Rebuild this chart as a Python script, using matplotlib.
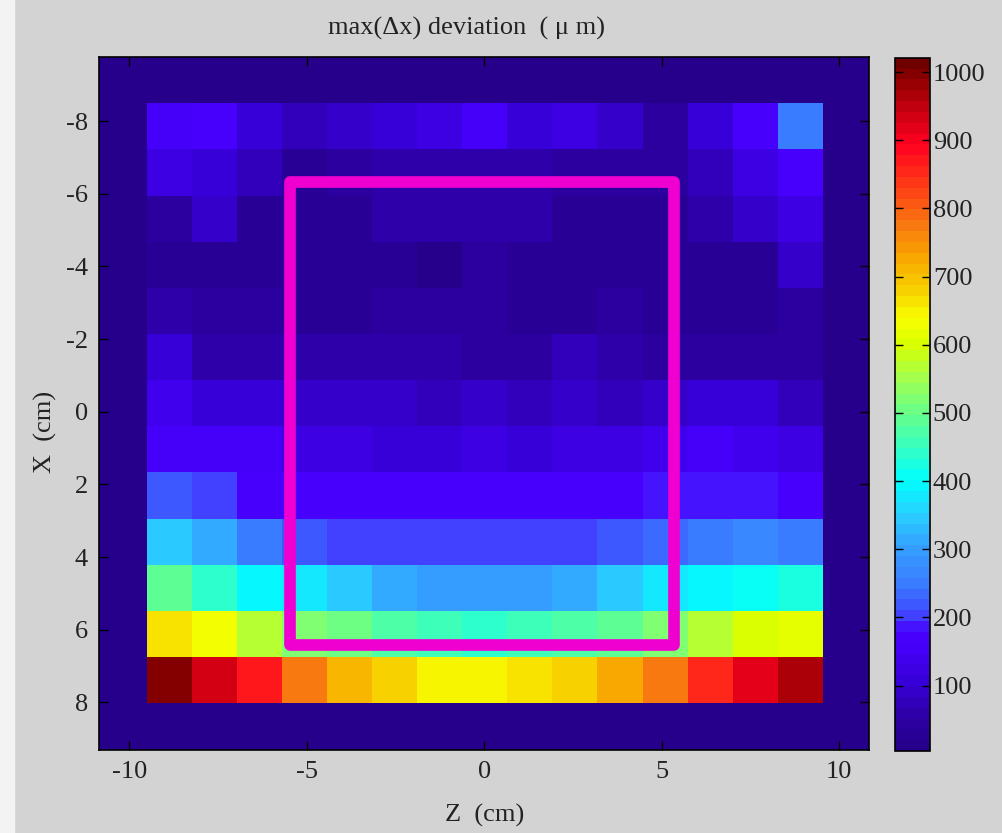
import numpy as np
import matplotlib
matplotlib.use("Agg")
import matplotlib.pyplot as plt
from matplotlib.colors import LinearSegmentedColormap, Normalize
from matplotlib.patches import Rectangle

# ---------------- data ----------------
title = "max(\u0394x) deviation  ( \u03bc m)"
xlabel = "Z  (cm)"
ylabel = "X  (cm)"

# rows: X from top (-8) to bottom (+8); columns: Z from left to right
dev = np.array([
    [160, 170, 110,  80,  95, 110, 125, 150, 105, 125,  90,  50, 105, 165, 250],
    [125, 110,  75,  20,  50,  65,  65,  65,  65,  40,  40,  40,  80, 120, 165],
    [ 50,  85,  20,  25,  25,  60,  60,  60,  60,  22,  22,  22,  55,  95, 130],
    [ 25,  25,  25,  25,  25,  20,  15,  45,  20,  20,  20,  20,  20,  20,  85],
    [ 65,  50,  50,  25,  25,  45,  45,  45,  25,  25,  45,  25,  25,  25,  45],
    [105,  65,  65,  55,  60,  60,  60,  50,  50,  75,  60,  50,  50,  50,  50],
    [140, 100, 100,  90,  90,  90,  80,  90,  80,  90,  80,  90, 100, 105,  80],
    [160, 160, 150, 125, 125, 110, 110, 120, 110, 125, 125, 140, 150, 145, 130],
    [218, 195, 175, 170, 170, 170, 170, 170, 170, 170, 170, 180, 180, 180, 178],
    [350, 310, 250, 225, 205, 205, 195, 205, 195, 202, 215, 235, 250, 265, 250],
    [490, 440, 400, 370, 340, 315, 300, 305, 305, 320, 350, 385, 400, 405, 420],
    [670, 630, 570, 520, 505, 465, 455, 440, 450, 465, 495, 525, 570, 600, 615],
    [1000, 940, 870, 770, 715, 680, 650, 645, 665, 680, 730, 780, 855, 920, 960],
])

cell_size = 1.27        # cm
z_start = -9.51         # left edge of first column (cm)
x_start = -8.49         # top edge of first row (cm)

region_z = [-5.47, 5.35]
region_x = [-6.33, 6.42]

vmin, vmax = 4, 1021
cbar_ticks = [100, 200, 300, 400, 500, 600, 700, 800, 900, 1000]
xticks = [-10, -5, 0, 5, 10]
yticks = [-8, -6, -4, -2, 0, 2, 4, 6, 8]

cmap_values = [4, 50, 100, 150, 175, 200, 250, 300, 350, 400, 450, 500, 550,
               600, 640, 680, 730, 780, 850, 900, 950, 1000, 1021]
cmap_colors = ["#26008a", "#2e00a8", "#3800d8", "#4400f8", "#4800ff", "#4048ff",
               "#3a80ff", "#34a0ff", "#28d0ff", "#00ffff", "#38ffc0", "#68ff88",
               "#a0ff50", "#d8ff00", "#f8ff00", "#f8d400", "#f8a800", "#f87810",
               "#ff3018", "#ff0020", "#c80010", "#8a0000", "#700000"]

# ---------------- figure ----------------
plt.rcParams['font.family'] = ['Liberation Serif', 'DejaVu Serif']
plt.rcParams['axes.unicode_minus'] = False
fs = 19
txt_color = "#222222"

positions = [(v - vmin) / (vmax - vmin) for v in cmap_values]
cmap = LinearSegmentedColormap.from_list("devjet", list(zip(positions, cmap_colors)), N=64)
norm = Normalize(vmin=vmin, vmax=vmax)

fig = plt.figure(figsize=(10.02, 8.33), dpi=100, facecolor="#d3d3d3")
fig.patches.append(Rectangle((0, 0), 14 / 1002, 1, transform=fig.transFigure,
                             color="#f3f3f3", zorder=-1))

ax = fig.add_axes([99 / 1002, 1 - 750 / 833, 770 / 1002, 693.3 / 833])
ax.set_facecolor(cmap(0))

nrows, ncols = dev.shape
z_edges = z_start + cell_size * np.arange(ncols + 1)
x_edges = x_start + cell_size * np.arange(nrows + 1)
ax.pcolormesh(z_edges, x_edges, dev, cmap=cmap, norm=norm, shading='flat')

ax.add_patch(Rectangle((region_z[0], region_x[0]), region_z[1] - region_z[0],
                       region_x[1] - region_x[0], fill=False, edgecolor="#f000d0",
                       linewidth=8.4, joinstyle='round', zorder=3))

ax.set_xlim(-10.85, 10.84)
ax.set_ylim(9.31, -9.77)
ax.set_xticks(xticks)
ax.set_yticks(yticks)
ax.tick_params(direction='in', length=6.5, width=1, top=True, right=True,
               labelsize=fs, colors="black", labelcolor=txt_color, pad=8)
for s in ax.spines.values():
    s.set_linewidth(1.2)
    s.set_color("black")

fig.text(467 / 1002, 1 - 28 / 833, title, ha='center', va='center', fontsize=fs, color=txt_color)
fig.text(485 / 1002, 1 - 815 / 833, xlabel, ha='center', va='center', fontsize=fs, color=txt_color)
fig.text(45 / 1002, 1 - 432 / 833, ylabel, ha='center', va='center', rotation=90,
         fontsize=fs, color=txt_color)

cax = fig.add_axes([895 / 1002, 1 - 751 / 833, 35 / 1002, 693.3 / 833])
sm = matplotlib.cm.ScalarMappable(norm=norm, cmap=cmap)
cb = fig.colorbar(sm, cax=cax, ticks=cbar_ticks)
cb.outline.set_linewidth(1.2)
cax.tick_params(direction='in', length=6, width=1, left=True, right=True,
                labelsize=fs, labelcolor=txt_color, pad=2)

fig.savefig("out.png", dpi=100, facecolor=fig.get_facecolor())
